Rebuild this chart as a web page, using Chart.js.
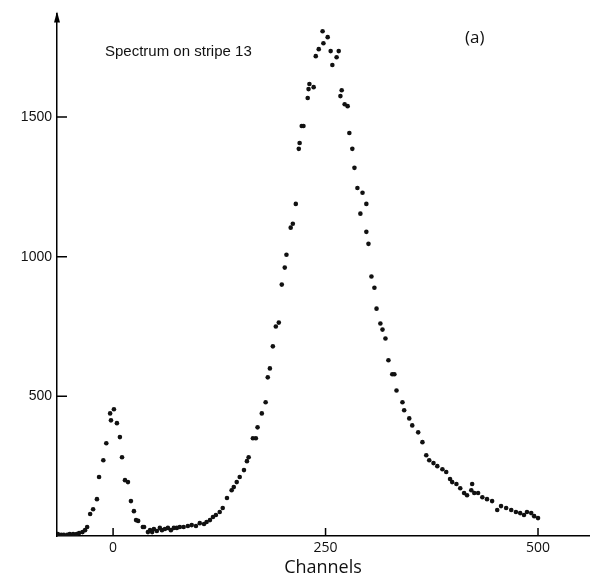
<!DOCTYPE html>
<html>
<head>
<meta charset="utf-8">
<script src="https://cdn.jsdelivr.net/npm/chart.js@4.4.0/dist/chart.umd.min.js"></script>
<style>
  body { margin: 0; background: #fff; }
  #wrap { width: 593px; height: 579px; position: relative; }
</style>
</head>
<body>
<div id="wrap"><canvas id="spec"></canvas></div>
<script>
// channel numbers and counts
const channels = [
    -65, -61, -58, -54, -51, -47, -43, -40, -36, -33,
    -30.5, -27, -23.5, -19, -16.5, -11.5, -8, -3.5, -2.5, 1,
    4.5, 8, 10.5, 14, 17.5, 21, 24.5, 27, 29.5, 35, 36.5,
    41, 43.5, 46, 48, 51.5, 55, 57.5, 61, 64.5, 68,
    71.5, 75, 78.5, 83, 88, 92.5, 97.5, 102, 107, 110,
    114, 117.5, 121, 125.5, 129, 134, 139.5, 142, 145.5, 149,
    154, 157.5, 159.5, 164.5, 168, 170, 175, 179.5, 182, 184.5,
    188, 191.5, 195, 198.5, 202, 204, 209, 211.5, 215, 218.5,
    219.5, 222, 224, 229, 230, 231, 236, 238.5, 242, 246.5,
    247.5, 252.5, 256, 258, 263, 265.5, 267.5, 269, 272.5, 276,
    278, 281.5, 284, 287.5, 291, 293.5, 298, 298, 300.5, 304,
    307.5, 310, 314.5, 317, 320.5, 324, 328.5, 331, 333.5, 340.5,
    342.5, 348.5, 352, 359, 364, 368.5, 372, 377, 381.5, 387.5,
    392, 396.5, 399, 404, 408.5, 413, 416.5, 421.5, 422.5, 425,
    429.5, 434.5, 440, 446, 452, 456.5, 462.5, 468.5, 474, 479,
    483.5, 487, 492, 495.5, 500
];
const counts = [
    7, 4, 4, 4, 7, 7, 7, 11, 14, 21,
    32, 79, 96, 132, 211, 271, 332, 439, 414, 454,
    404, 354, 282, 200, 193, 125, 89, 57, 54, 32, 32,
    14, 21, 14, 25, 18, 29, 21, 25, 29, 21,
    29, 29, 32, 32, 36, 39, 36, 46, 43, 50,
    57, 68, 75, 86, 100, 136, 164, 175, 193, 211,
    236, 268, 282, 350, 350, 389, 439, 479, 568, 600,
    679, 750, 764, 900, 961, 1007, 1104, 1118, 1189, 1386,
    1407, 1468, 1468, 1568, 1600, 1618, 1607, 1718, 1743, 1807,
    1764, 1786, 1736, 1686, 1714, 1736, 1575, 1596, 1546, 1539,
    1443, 1386, 1318, 1246, 1154, 1229, 1189, 1089, 1046, 929,
    889, 814, 761, 739, 707, 629, 579, 579, 521, 479,
    450, 421, 396, 371, 336, 289, 271, 261, 250, 239,
    229, 204, 193, 186, 171, 154, 146, 164, 186, 154,
    154, 139, 132, 125, 93, 107, 100, 93, 86, 82,
    75, 86, 82, 71, 64
];
const xTicks = [0, 250, 500];
const yTicks = [500, 1000, 1500];

const points = channels.map((c, i) => ({ x: c, y: counts[i] }));

// inward tick marks, arrow on the y axis and the two notes
const decorations = {
    id: 'decorations',
    afterDraw(chart) {
        const ctx = chart.ctx;
        const area = chart.chartArea;
        const xs = chart.scales.x, ys = chart.scales.y;
        ctx.save();
        ctx.strokeStyle = '#000';
        ctx.lineWidth = 1.5;
        ctx.beginPath();
        yTicks.forEach(v => {
            const py = ys.getPixelForValue(v);
            ctx.moveTo(area.left, py);
            ctx.lineTo(area.left + 10, py);
        });
        xTicks.forEach(v => {
            const px = xs.getPixelForValue(v);
            ctx.moveTo(px, area.bottom);
            ctx.lineTo(px, area.bottom - 8);
        });
        ctx.stroke();

        // arrow head
        ctx.fillStyle = '#000';
        ctx.beginPath();
        ctx.moveTo(area.left, area.top - 2);
        ctx.lineTo(area.left - 3, area.top + 9);
        ctx.lineTo(area.left + 3, area.top + 9);
        ctx.closePath();
        ctx.fill();

        ctx.fillStyle = '#111';
        ctx.textBaseline = 'middle';
        ctx.font = '15px "Liberation Sans"';
        ctx.fillText('Spectrum on stripe 13', 105, 52);
        ctx.font = '17px "Open Sans"';
        ctx.fillText('(a)', 465, 38);
        ctx.restore();
    }
};

new Chart(document.getElementById('spec'), {
    type: 'scatter',
    data: {
        datasets: [{
            data: points,
            backgroundColor: '#111',
            borderWidth: 0,
            pointRadius: 2.3
        }]
    },
    options: {
        responsive: true,
        maintainAspectRatio: false,
        animation: false,
        layout: { padding: { top: 12, right: 3, left: 0, bottom: 0 } },
        plugins: {
            legend: { display: false },
            tooltip: { enabled: false }
        },
        scales: {
            x: {
                type: 'linear',
                min: -66,
                max: 560,
                afterBuildTicks: axis => { axis.ticks = xTicks.map(v => ({ value: v })); },
                afterFit: axis => { axis.height = 43; },
                grid: { display: false, drawTicks: false },
                border: { display: true, color: '#000', width: 1.5 },
                ticks: {
                    color: '#111',
                    padding: 4,
                    callback: v => String(v),
                    font: { family: '"Open Sans"', size: 14 }
                },
                title: {
                    display: true,
                    text: 'Channels',
                    color: '#111',
                    padding: { top: 0, bottom: 0 },
                    font: { family: '"Open Sans"', size: 18 }
                }
            },
            y: {
                type: 'linear',
                min: 0,
                max: 1871,
                afterBuildTicks: axis => { axis.ticks = yTicks.map(v => ({ value: v })); },
                afterFit: axis => { axis.width = 57; },
                grid: { display: false, drawTicks: false },
                border: { display: true, color: '#000', width: 1.5 },
                ticks: {
                    color: '#111',
                    padding: 5,
                    callback: v => String(v),
                    font: { family: '"Liberation Sans"', size: 14 }
                }
            }
        }
    },
    plugins: [decorations]
});
</script>
</body>
</html>
